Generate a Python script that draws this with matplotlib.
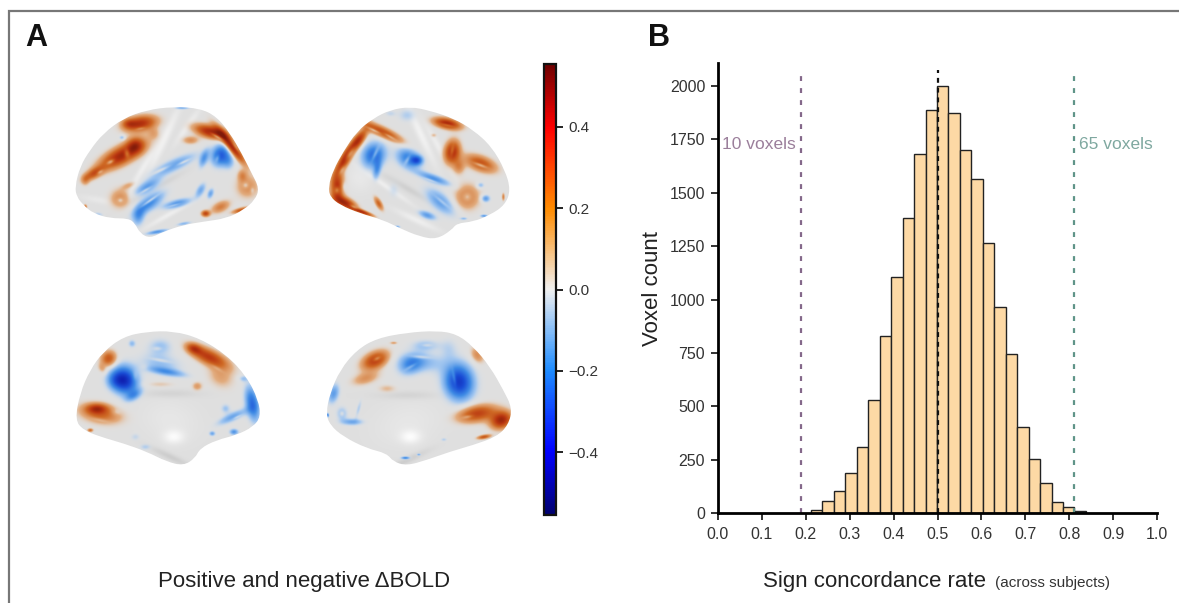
import numpy as np
import matplotlib
matplotlib.use('Agg')
import matplotlib.pyplot as plt
from matplotlib.colors import LinearSegmentedColormap, Normalize
from matplotlib.cm import ScalarMappable
from matplotlib.path import Path
from matplotlib.patches import PathPatch

plt.rcParams['font.family'] = ['Liberation Sans', 'DejaVu Sans']

# histogram
bin_start = 0.2123
bin_width = 0.02605
counts = [15, 56, 105, 187, 310, 529, 827, 1107, 1382, 1684, 1890, 2001,
          1872, 1700, 1564, 1263, 965, 743, 403, 254, 140, 53, 30, 11]
x_ticks = [0.0, 0.1, 0.2, 0.3, 0.4, 0.5, 0.6, 0.7, 0.8, 0.9, 1.0]
y_ticks = [0, 250, 500, 750, 1000, 1250, 1500, 1750, 2000]
low_line = 0.189
mid_line = 0.5
high_line = 0.81
cbar_ticks = [-0.4, -0.2, 0.0, 0.2, 0.4]
cbar_max = 0.555

# brains: outline points, blobs (x, y, rx, ry, angle, value), folds and holes, in px*3 from the crop origin
origin_1 = (60, 90)
outline_1 = [(45, 290), (60, 230), (90, 180), (130, 130), (190, 85), (260, 60), (340, 50), (420, 55),
             (470, 80), (510, 130), (545, 190), (575, 250), (598, 295), (585, 330), (550, 360), (500, 385),
             (430, 395), (370, 405), (310, 425), (270, 445), (240, 430), (225, 400), (205, 385), (150, 385),
             (100, 370), (70, 345), (50, 320)]
blobs_1 = [(240, 100, 48, 22, -10, .42), (205, 100, 20, 14, 0, .18), (185, 195, 72, 26, -28, .46),
           (225, 165, 24, 24, 0, .25), (100, 250, 32, 14, -30, .28), (75, 270, 12, 16, 0, .12),
           (450, 125, 48, 18, 15, .46), (510, 165, 64, 13, 52, .5), (390, 150, 24, 12, 0, .16),
           (180, 325, 32, 30, 0, .17), (205, 285, 22, 10, -20, .1), (560, 290, 34, 34, 0, .17),
           (545, 255, 14, 18, 0, .15), (480, 350, 30, 16, -25, .2), (435, 370, 12, 9, 0, .34),
           (540, 360, 26, 7, -15, .28), (75, 350, 5, 7, 0, .25), (280, 130, 17, 17, 0, .09),
           (340, 225, 72, 18, -25, -.19), (480, 195, 26, 32, 20, -.36), (430, 205, 12, 28, 20, -.2),
           (260, 290, 44, 16, -30, -.2), (265, 340, 54, 20, -35, -.25), (350, 340, 42, 12, -15, -.22),
           (420, 300, 12, 24, 30, -.17), (235, 380, 17, 28, 10, -.17), (290, 425, 32, 6, -10, -.22),
           (370, 400, 22, 5, -10, -.14), (365, 52, 22, 5, 0, -.18), (185, 142, 9, 7, 0, -.14),
           (115, 372, 14, 6, 10, -.09), (505, 215, 17, 23, 0, -.13), (450, 310, 9, 16, 20, -.18)]
ridges_1 = [(310, 150, 12, 110, 25, .6), (250, 230, 10, 90, 30, .5), (290, 290, 90, 10, -30, -.5),
            (380, 110, 10, 60, 35, .5), (330, 370, 90, 8, -30, .5), (120, 330, 60, 10, 10, .3)]
holes_1 = [(150, 215, 12, 6, -28, .7), (200, 190, 8, 14, -10, .5), (120, 245, 10, 5, -30, .6),
           (470, 140, 20, 4, 30, .6), (525, 170, 18, 4, 55, .4), (240, 115, 15, 4, -10, .4),
           (555, 285, 10, 10, 0, .6), (575, 300, 6, 10, 0, .5), (180, 330, 10, 8, 0, .6),
           (300, 240, 30, 5, -25, .7), (370, 215, 20, 4, -25, .7), (270, 330, 30, 4, -35, .7),
           (340, 345, 20, 3, -15, .5), (470, 205, 6, 12, 20, .4), (255, 300, 20, 4, -30, .6)]

origin_2 = (310, 90)
outline_2 = [(55, 290), (70, 240), (100, 185), (140, 125), (190, 85), (240, 60), (300, 50), (360, 62),
             (430, 85), (490, 120), (545, 170), (585, 240), (602, 300), (585, 345), (540, 375), (490, 395),
             (440, 400), (425, 420), (380, 448), (330, 440), (270, 415), (220, 390), (150, 370), (90, 345),
             (60, 320)]
blobs_2 = [(215, 125, 65, 15, 25, .34), (145, 150, 38, 14, -55, .4), (105, 205, 48, 14, -60, .46),
           (82, 290, 20, 42, 0, .42), (105, 338, 34, 15, 25, .44), (155, 365, 34, 6, 20, .42),
           (205, 340, 9, 22, -30, .26), (410, 100, 40, 15, 12, .46), (425, 185, 22, 34, 10, .44),
           (445, 230, 17, 22, 0, .17), (510, 220, 48, 22, 20, .32), (470, 320, 37, 38, 0, .21),
           (578, 320, 4, 11, 0, .2), (370, 135, 9, 6, 0, .09),
           (190, 195, 33, 38, 30, -.33), (200, 240, 11, 28, 10, -.18), (295, 205, 38, 28, 30, -.28),
           (320, 210, 16, 13, 0, -.26), (370, 265, 52, 12, 20, -.22), (390, 335, 54, 25, 40, -.2),
           (250, 300, 16, 24, 0, -.06), (350, 375, 27, 11, 20, -.2), (290, 75, 27, 20, 0, -.09),
           (240, 70, 16, 9, 0, -.07), (525, 325, 13, 11, 0, -.22), (510, 285, 11, 9, 0, -.14),
           (520, 377, 11, 4, 0, -.22), (260, 410, 9, 4, 0, -.18), (460, 385, 11, 4, 0, -.13)]
ridges_2 = [(330, 130, 12, 100, -25, .6), (390, 180, 10, 90, -30, .5), (300, 300, 100, 10, 30, -.5),
            (230, 290, 90, 8, 35, .5), (150, 260, 40, 45, 0, .3), (320, 390, 70, 10, 25, .5)]
holes_2 = [(105, 290, 12, 20, 0, .8), (80, 300, 8, 10, 0, .5), (120, 190, 8, 22, 35, .6),
           (95, 240, 6, 14, 30, .5), (190, 120, 22, 4, 25, .7), (240, 140, 20, 4, 30, .6),
           (410, 105, 20, 4, 12, .4), (425, 180, 6, 18, 10, .4), (510, 225, 22, 5, 20, .7),
           (470, 320, 14, 14, 0, .6), (195, 190, 6, 24, 25, .5), (290, 210, 6, 16, 30, .5),
           (395, 335, 28, 5, 40, .5), (360, 270, 24, 3, 20, .5), (130, 350, 12, 4, 25, .5)]

origin_3 = (60, 320)
outline_3 = [(45, 300), (60, 220), (90, 150), (130, 95), (190, 50), (260, 35), (340, 33), (420, 55),
             (500, 105), (560, 170), (595, 240), (602, 290), (580, 320), (530, 345), (470, 360), (420, 385),
             (405, 415), (370, 437), (320, 425), (260, 395), (190, 370), (120, 350), (70, 330)]
blobs_3 = [(445, 110, 62, 22, 25, .38), (400, 85, 22, 14, 20, .25), (480, 170, 42, 32, 30, .12),
           (145, 115, 24, 22, -50, .3), (125, 145, 11, 16, -30, .1), (120, 280, 62, 28, 10, .26),
           (110, 265, 30, 14, 0, .28), (90, 330, 8, 5, 0, .24), (300, 192, 42, 9, 0, .07),
           (410, 198, 15, 13, 0, .14),
           (195, 180, 35, 42, -20, -.46), (165, 180, 28, 28, 0, -.2), (220, 225, 27, 14, -30, -.16),
           (300, 130, 62, 30, 10, -.12), (300, 78, 37, 24, 0, -.11), (320, 155, 57, 11, 10, -.18),
           (575, 250, 20, 52, -10, -.32), (515, 290, 48, 13, -25, -.18), (495, 265, 14, 14, 0, -.11),
           (520, 335, 13, 9, 0, -.22), (455, 340, 9, 7, 0, -.18), (225, 350, 14, 11, 0, -.07),
           (255, 380, 17, 9, 0, -.09), (215, 70, 11, 11, 0, -.13), (548, 175, 14, 9, 0, -.11)]
ridges_3 = [(330, 300, 85, 60, 15, .25), (340, 350, 30, 20, 0, .8), (330, 220, 90, 12, 0, -.4),
            (330, 410, 70, 10, 25, -.6)]
holes_3 = [(300, 120, 30, 5, 10, .6), (290, 85, 14, 6, 0, .5), (250, 140, 14, 10, 0, .4),
           (470, 145, 20, 5, 30, .4), (120, 300, 30, 5, 10, .4), (170, 275, 14, 10, 0, .4),
           (530, 290, 14, 3, -25, .5), (225, 165, 8, 16, 0, .3)]

origin_4 = (310, 320)
outline_4 = [(48, 280), (60, 220), (90, 150), (140, 90), (200, 55), (290, 38), (380, 32), (440, 42),
             (490, 80), (540, 140), (580, 210), (607, 265), (595, 315), (560, 350), (490, 375), (420, 395),
             (350, 420), (290, 437), (250, 425), (230, 400), (170, 385), (100, 350), (60, 315)]
blobs_4 = [(195, 120, 42, 24, -25, .38), (165, 175, 42, 18, -15, .15), (500, 280, 58, 24, -10, .36),
           (572, 300, 32, 24, -20, .46), (520, 350, 20, 6, -10, .3), (500, 105, 18, 26, -30, .17),
           (230, 205, 27, 12, 0, .09), (250, 68, 11, 4, 0, .13),
           (445, 185, 42, 52, -10, -.46), (330, 125, 72, 30, 5, -.14), (345, 75, 42, 17, 0, -.11),
           (415, 85, 27, 32, 0, -.07), (300, 135, 37, 27, -30, -.18), (70, 220, 16, 30, 15, -.2),
           (95, 280, 16, 20, 0, -.13), (125, 305, 32, 10, 0, -.18), (145, 265, 6, 27, 15, -.09),
           (52, 285, 4, 6, 0, -.3), (400, 358, 9, 5, 0, -.09), (285, 413, 13, 4, 0, -.26),
           (325, 403, 6, 3, 0, -.18)]
ridges_4 = [(290, 310, 100, 65, -15, .25), (300, 350, 30, 20, 0, .8), (290, 225, 90, 12, 0, -.4),
            (290, 420, 70, 10, -25, -.6)]
holes_4 = [(330, 110, 30, 5, 5, .6), (350, 75, 16, 5, 0, .5), (200, 115, 12, 6, -25, .5),
           (470, 290, 16, 5, -10, .5), (95, 280, 7, 8, 0, .7), (430, 170, 5, 24, -10, .3),
           (300, 140, 20, 5, -30, .4)]

brains = [(origin_1, outline_1, blobs_1, ridges_1, holes_1), (origin_2, outline_2, blobs_2, ridges_2, holes_2),
          (origin_3, outline_3, blobs_3, ridges_3, holes_3), (origin_4, outline_4, blobs_4, ridges_4, holes_4)]

cold_hot = LinearSegmentedColormap.from_list('cold_hot', [
    (0.0, '#00006e'), (0.14, '#0000ff'), (0.32, '#1e8cff'), (0.5, '#f0f0f0'),
    (0.68, '#ff8c00'), (0.86, '#ff0000'), (1.0, '#6e0000')])
# the surfaces are lit, so their colours are duller than the colorbar
surface_map = LinearSegmentedColormap.from_list('surface', [
    (0.0, '#0f1fb0'), (0.14, '#1a4ed6'), (0.28, '#3f8be5'), (0.41, '#a5c8f0'), (0.5, '#e6e6e6'),
    (0.59, '#e2ad80'), (0.72, '#cf6a25'), (0.86, '#b8340f'), (1.0, '#7f1a0a')])
norm = Normalize(-cbar_max, cbar_max)

fig = plt.figure(figsize=(11.79, 6.03), dpi=100, facecolor='white')
W, H = 1179.0, 603.0


def px_axes(left, top, right, bottom):
    return fig.add_axes([left / W, 1 - bottom / H, (right - left) / W, (bottom - top) / H])


def blob_sum(xx, yy, items):
    total = np.zeros_like(xx)
    for cx, cy, rx, ry, ang, val in items:
        t = np.deg2rad(ang)
        u = (xx - cx) * np.cos(t) + (yy - cy) * np.sin(t)
        v = -(xx - cx) * np.sin(t) + (yy - cy) * np.cos(t)
        r2 = (u / rx) ** 2 + (v / ry) ** 2
        total += val * np.exp(-r2)
    return total


def smooth_path(points, x0, y0):
    pts = [(x0 + x / 3.0, y0 + y / 3.0) for x, y in points]
    n = len(pts)
    mid = lambda a, b: ((a[0] + b[0]) / 2, (a[1] + b[1]) / 2)
    verts = [mid(pts[0], pts[1])]
    codes = [Path.MOVETO]
    for i in range(1, n + 1):
        verts += [pts[(i) % n], mid(pts[i % n], pts[(i + 1) % n])]
        codes += [Path.CURVE3, Path.CURVE3]
    return Path(verts, codes)


# full-figure axes in pixels for the frame, the brains and the text
bg = fig.add_axes([0, 0, 1, 1])
bg.set_xlim(0, W)
bg.set_ylim(H, 0)
bg.axis('off')
bg.plot([1179, 9, 9], [10.5, 10.5, 603], color='#777777', lw=1.6, solid_joinstyle='miter')

for (x0, y0), outline, blobs, ridges, holes in brains:
    gx = np.arange(0, 640, 1.5)
    gy = np.arange(0, 480, 1.5)
    xx, yy = np.meshgrid(gx, gy)
    field = blob_sum(xx, yy, blobs) * (1 - np.clip(blob_sum(xx, yy, holes), 0, 0.9))
    field = np.clip(field, -cbar_max, cbar_max)
    shade = 0.875 + 0.12 * blob_sum(xx, yy, ridges)
    rgba = surface_map(norm(field))
    alpha = np.clip(np.abs(field) / 0.1, 0, 1)[..., None]
    rgb = rgba[..., :3] * alpha + np.clip(shade, 0, 1)[..., None] * (1 - alpha)
    im = bg.imshow(rgb, extent=(x0, x0 + 640 / 3.0, y0 + 480 / 3.0, y0), interpolation='bilinear',
                   aspect='auto')
    im.set_clip_path(PathPatch(smooth_path(outline, x0, y0), transform=bg.transData))
bg.set_xlim(0, W)
bg.set_ylim(H, 0)

bg.text(25, 38.5, 'A', fontsize=22, fontweight='bold', color='#111111', ha='left', va='center')
bg.text(648, 38.5, 'B', fontsize=22, fontweight='bold', color='#111111', ha='left', va='center')
bg.text(304, 582, 'Positive and negative \u0394BOLD', fontsize=16, color='#222222', ha='center', va='center')
bg.text(763, 582, 'Sign concordance rate', fontsize=16, color='#222222', ha='left', va='center')
bg.text(995, 583, '(across subjects)', fontsize=11, color='#333333', ha='left', va='center')

# colorbar
cax = px_axes(543.5, 64, 555.5, 515)
cb = fig.colorbar(ScalarMappable(norm=norm, cmap=cold_hot), cax=cax, ticks=cbar_ticks)
cb.outline.set_linewidth(1.6)
cb.outline.set_edgecolor('#111111')
cb.ax.tick_params(length=5, width=1.4, labelsize=11, labelcolor='#333333', color='#222222', pad=4)
cb.ax.set_yticklabels(['\u22120.4', '\u22120.2', '0.0', '0.2', '0.4'])

# histogram
ax = px_axes(717.7, 63, 1157.3, 513)
lefts = [bin_start + i * bin_width for i in range(len(counts))]
bar_colors = ['#fdd9a5'] * (len(counts) - 1) + ['#3c6f64']
ax.bar(lefts, counts, width=bin_width, align='edge', color=bar_colors, edgecolor='#222222', linewidth=1)
ax.set_xlim(0, 1)
ax.set_ylim(0, 2108)
ax.vlines(low_line, 0, 2075, color='#84688a', lw=1.6, linestyles=(0, (2.2, 3.2)))
ax.vlines(high_line, 0, 2075, color='#5f9488', lw=1.6, linestyles=(0, (2.2, 3.2)))
ax.vlines(mid_line, 0, 2075, color='#111111', lw=1.6, linestyles=(0, (2.2, 2.2)))
ax.text(0.178, 1728, '10 voxels', color='#9b7f9b', fontsize=12.5, ha='right', va='center')
ax.text(0.823, 1728, '65 voxels', color='#7fa8a0', fontsize=12.5, ha='left', va='center')
ax.set_xticks(x_ticks)
ax.set_yticks(y_ticks)
ax.set_xticklabels(['%.1f' % v for v in x_ticks])
ax.spines['top'].set_visible(False)
ax.spines['right'].set_visible(False)
ax.spines['left'].set_linewidth(2)
ax.spines['bottom'].set_linewidth(2)
ax.tick_params(length=5, width=1.3, labelsize=11.5, labelcolor='#333333', color='#222222', pad=4)
ax.tick_params(axis='x', pad=5)
ax.set_ylabel('Voxel count', fontsize=16, color='#222222', labelpad=5)

fig.savefig('out.png', dpi=100)
